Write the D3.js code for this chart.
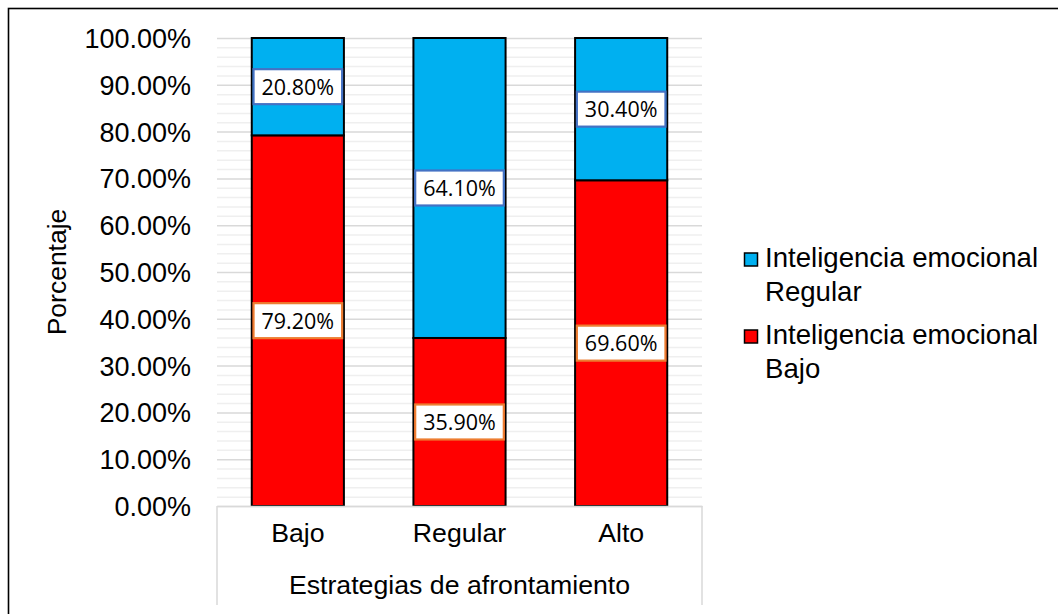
<!DOCTYPE html>
<html>
<head>
<meta charset="utf-8">
<script src="https://cdn.jsdelivr.net/npm/d3@7"></script>
<style>
  html, body { margin: 0; padding: 0; background: #fff; }
  svg { display: block; }
</style>
</head>
<body>
<svg id="chart" width="1058" height="614"></svg>
<script>
// Categories on the x axis (coping strategies) and the two stacked series
const categories = ["Bajo", "Regular", "Alto"];
const seriesNames = ["Inteligencia emocional Bajo", "Inteligencia emocional Regular"];
const bajoValues = [79.2, 35.9, 69.6];
const regularValues = [20.8, 64.1, 30.4];
const yTicks = [0, 10, 20, 30, 40, 50, 60, 70, 80, 90, 100];
const yMinorTicks = [2, 4, 6, 8, 12, 14, 16, 18, 22, 24, 26, 28, 32, 34, 36, 38, 42, 44, 46, 48,
  52, 54, 56, 58, 62, 64, 66, 68, 72, 74, 76, 78, 82, 84, 86, 88, 92, 94, 96, 98];
const axisTitleX = "Estrategias de afrontamiento";
const axisTitleY = "Porcentaje";

const colors = { bajo: "#FF0000", regular: "#00B0F0" };
const labelStroke = { bajo: "#ED7D31", regular: "#4472C4" };

const svg = d3.select("#chart");
const arial = "'Liberation Sans', Arial, sans-serif";
const labelFont = "'Open Sans', 'Noto Sans', sans-serif";

const plot = { left: 217, right: 702, top: 38, bottom: 506 };

const x = d3.scaleBand().domain(categories).range([plot.left, plot.right]).paddingInner(0.43).paddingOuter(0.215);
const y = d3.scaleLinear().domain([0, 100]).range([plot.bottom, plot.top]);

// Outer chart border (continues past the right and bottom edges)
svg.append("rect")
  .attr("x", 8.5).attr("y", 8.5).attr("width", 1100).attr("height", 700)
  .attr("fill", "none").attr("stroke", "#000").attr("stroke-width", 1.6);

// Minor gridlines
svg.append("g")
  .attr("transform", `translate(${plot.left},0)`)
  .call(d3.axisLeft(y).tickValues(yMinorTicks).tickSize(-(plot.right - plot.left)).tickFormat(""))
  .call(g => g.select(".domain").remove())
  .call(g => g.selectAll("line").attr("stroke", "#efefef").attr("stroke-width", 1.5));

// Major gridlines
svg.append("g")
  .attr("transform", `translate(${plot.left},0)`)
  .call(d3.axisLeft(y).tickValues(yTicks).tickSize(-(plot.right - plot.left)).tickFormat(""))
  .call(g => g.select(".domain").remove())
  .call(g => g.selectAll("line").attr("stroke", "#d9d9d9").attr("stroke-width", 1.5));

// Y tick labels
svg.append("g")
  .attr("transform", `translate(191,0)`)
  .call(d3.axisLeft(y).tickValues(yTicks).tickSize(0).tickPadding(0).tickFormat(d => d.toFixed(2) + "%"))
  .call(g => g.select(".domain").remove())
  .call(g => g.selectAll("text")
    .attr("font-family", arial).attr("font-size", "27px").attr("fill", "#000")
    .attr("dy", "0.35em"));

// Stacked data
const rows = categories.map((c, i) => ({ cat: c, bajo: bajoValues[i], regular: regularValues[i] }));
const stack = d3.stack().keys(["bajo", "regular"])(rows);

// Bars
const layers = svg.append("g").selectAll("g").data(stack).join("g")
  .attr("fill", d => colors[d.key]);
layers.selectAll("rect").data(d => d.map(s => ({ key: d.key, s })))
  .join("rect")
  .attr("x", d => x(d.s.data.cat))
  .attr("width", x.bandwidth())
  .attr("y", d => y(d.s[1]))
  .attr("height", d => y(d.s[0]) - y(d.s[1]))
  .attr("stroke", "#000").attr("stroke-width", 2);

// Data labels in boxes
const labels = svg.append("g");
stack.forEach(layer => {
  layer.forEach(s => {
    const v = s.data[layer.key];
    const cx = x(s.data.cat) + x.bandwidth() / 2;
    const cy = y((s[0] + s[1]) / 2);
    const g = labels.append("g");
    const rect = g.append("rect");
    const t = g.append("text")
      .attr("x", cx).attr("y", cy)
      .attr("dy", "0.37em")
      .attr("text-anchor", "middle")
      .attr("font-family", labelFont).attr("font-size", "21.5px").attr("fill", "#000")
      .text(v.toFixed(2) + "%");
    const w = t.node().getComputedTextLength() + 16;
    const h = 35;
    rect.attr("x", cx - w / 2).attr("y", cy - h / 2).attr("width", w).attr("height", h)
      .attr("fill", "#fff").attr("stroke", labelStroke[layer.key]).attr("stroke-width", 2.2);
  });
});

// Category axis frame
const axisColor = "#d9d9d9";
svg.append("g")
  .attr("transform", `translate(0,${plot.bottom})`)
  .call(d3.axisBottom(x).tickSize(0).tickPadding(0))
  .call(g => g.select(".domain").attr("stroke", axisColor).attr("stroke-width", 1.5))
  .call(g => g.selectAll("text")
    .attr("font-family", arial).attr("font-size", "26.7px").attr("fill", "#000")
    .attr("dy", null).attr("y", 36));
svg.append("line").attr("x1", plot.left).attr("x2", plot.left).attr("y1", plot.bottom).attr("y2", 605)
  .attr("stroke", axisColor).attr("stroke-width", 1.5);
svg.append("line").attr("x1", plot.right).attr("x2", plot.right).attr("y1", plot.bottom).attr("y2", 605)
  .attr("stroke", axisColor).attr("stroke-width", 1.5);

// Axis titles
svg.append("text")
  .attr("x", (plot.left + plot.right) / 2).attr("y", 594)
  .attr("text-anchor", "middle")
  .attr("font-family", arial).attr("font-size", "26.7px").attr("fill", "#000")
  .text(axisTitleX);
svg.append("text")
  .attr("transform", `translate(66,${(plot.top + plot.bottom) / 2}) rotate(-90)`)
  .attr("text-anchor", "middle")
  .attr("font-family", arial).attr("font-size", "26.5px").attr("fill", "#000")
  .text(axisTitleY);

// Legend (Regular listed first, as stacked from the top)
const legendItems = [
  { key: "regular", lines: ["Inteligencia emocional", "Regular"], top: 253 },
  { key: "bajo", lines: ["Inteligencia emocional", "Bajo"], top: 330 }
];
const legend = svg.append("g");
legendItems.forEach(item => {
  legend.append("rect")
    .attr("x", 744.5).attr("y", item.top).attr("width", 13).attr("height", 13)
    .attr("fill", colors[item.key]).attr("stroke", "#000").attr("stroke-width", 1.5);
  const t = legend.append("text")
    .attr("font-family", arial).attr("font-size", "27.6px").attr("fill", "#000");
  item.lines.forEach((ln, i) => {
    t.append("tspan").attr("x", 765).attr("y", item.top + 14 + i * 33.5).text(ln);
  });
});
</script>
</body>
</html>
